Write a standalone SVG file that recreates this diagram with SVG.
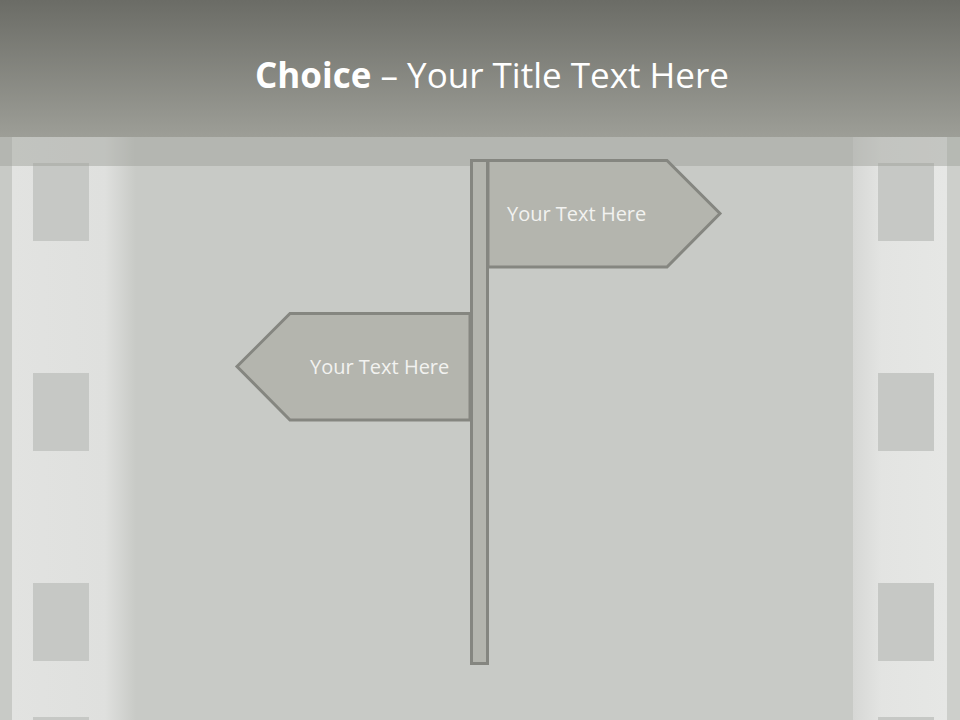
<svg xmlns="http://www.w3.org/2000/svg" width="960" height="720" viewBox="0 0 960 720">
<defs>
<linearGradient id="hdr" x1="0" y1="0" x2="0" y2="1">
<stop offset="0" stop-color="#6b6c66"/>
<stop offset="1" stop-color="#9d9e97"/>
</linearGradient>
<linearGradient id="lstrip" x1="0" y1="0" x2="1" y2="0">
<stop offset="0" stop-color="#e2e3e1"/>
<stop offset="0.75" stop-color="#dfe0de"/>
<stop offset="1" stop-color="#c8cac6"/>
</linearGradient>
<linearGradient id="rstrip" x1="0" y1="0" x2="1" y2="0">
<stop offset="0" stop-color="#d6d7d5"/>
<stop offset="0.3" stop-color="#e3e4e2"/>
<stop offset="1" stop-color="#e6e7e5"/>
</linearGradient>
<style>
.hole{fill:#c6c8c5}
.sign{fill:#b4b5ae;stroke:#858680;stroke-width:3}
.lbl{font-family:"Open Sans","Noto Sans",sans-serif;font-size:20px;fill:#f2f2f0}
</style>
</defs>
<rect width="960" height="720" fill="#c8cac6"/>
<rect x="12" y="137" width="124" height="583" fill="url(#lstrip)"/>
<rect x="853" y="137" width="94" height="583" fill="url(#rstrip)"/>
<rect x="947" y="137" width="13" height="583" fill="#cdcfcb"/>
<g id="holes">
<rect class="hole" x="33" y="163" width="56" height="78"/>
<rect class="hole" x="33" y="373" width="56" height="78"/>
<rect class="hole" x="33" y="583" width="56" height="78"/>
<rect class="hole" x="33" y="717" width="56" height="10"/>
<rect class="hole" x="878" y="163" width="56" height="78"/>
<rect class="hole" x="878" y="373" width="56" height="78"/>
<rect class="hole" x="878" y="583" width="56" height="78"/>
<rect class="hole" x="878" y="717" width="56" height="10"/>
</g>
<rect x="0" y="137" width="960" height="29" fill="#9c9d96" opacity="0.45"/>
<rect x="0" y="0" width="960" height="137" fill="url(#hdr)"/>
<text x="492" y="88" text-anchor="middle" font-family="Open Sans, Noto Sans, sans-serif" font-size="35" fill="#ffffff"><tspan font-weight="bold">Choice</tspan> – Your Title Text Here</text>
<g id="pole"><rect class="sign" x="471.5" y="160.5" width="16" height="503"/></g>
<g id="sign-right">
<polygon class="sign" points="488,160.5 667,160.5 720,213.5 667,267 488,267"/>
<text class="lbl" x="507" y="221">Your Text Here</text>
</g>
<g id="sign-left">
<polygon class="sign" points="470,313.5 290,313.5 237,366.5 290,420 470,420"/>
<text class="lbl" x="310" y="374">Your Text Here</text>
</g>
<g id="connectors"/>
</svg>
